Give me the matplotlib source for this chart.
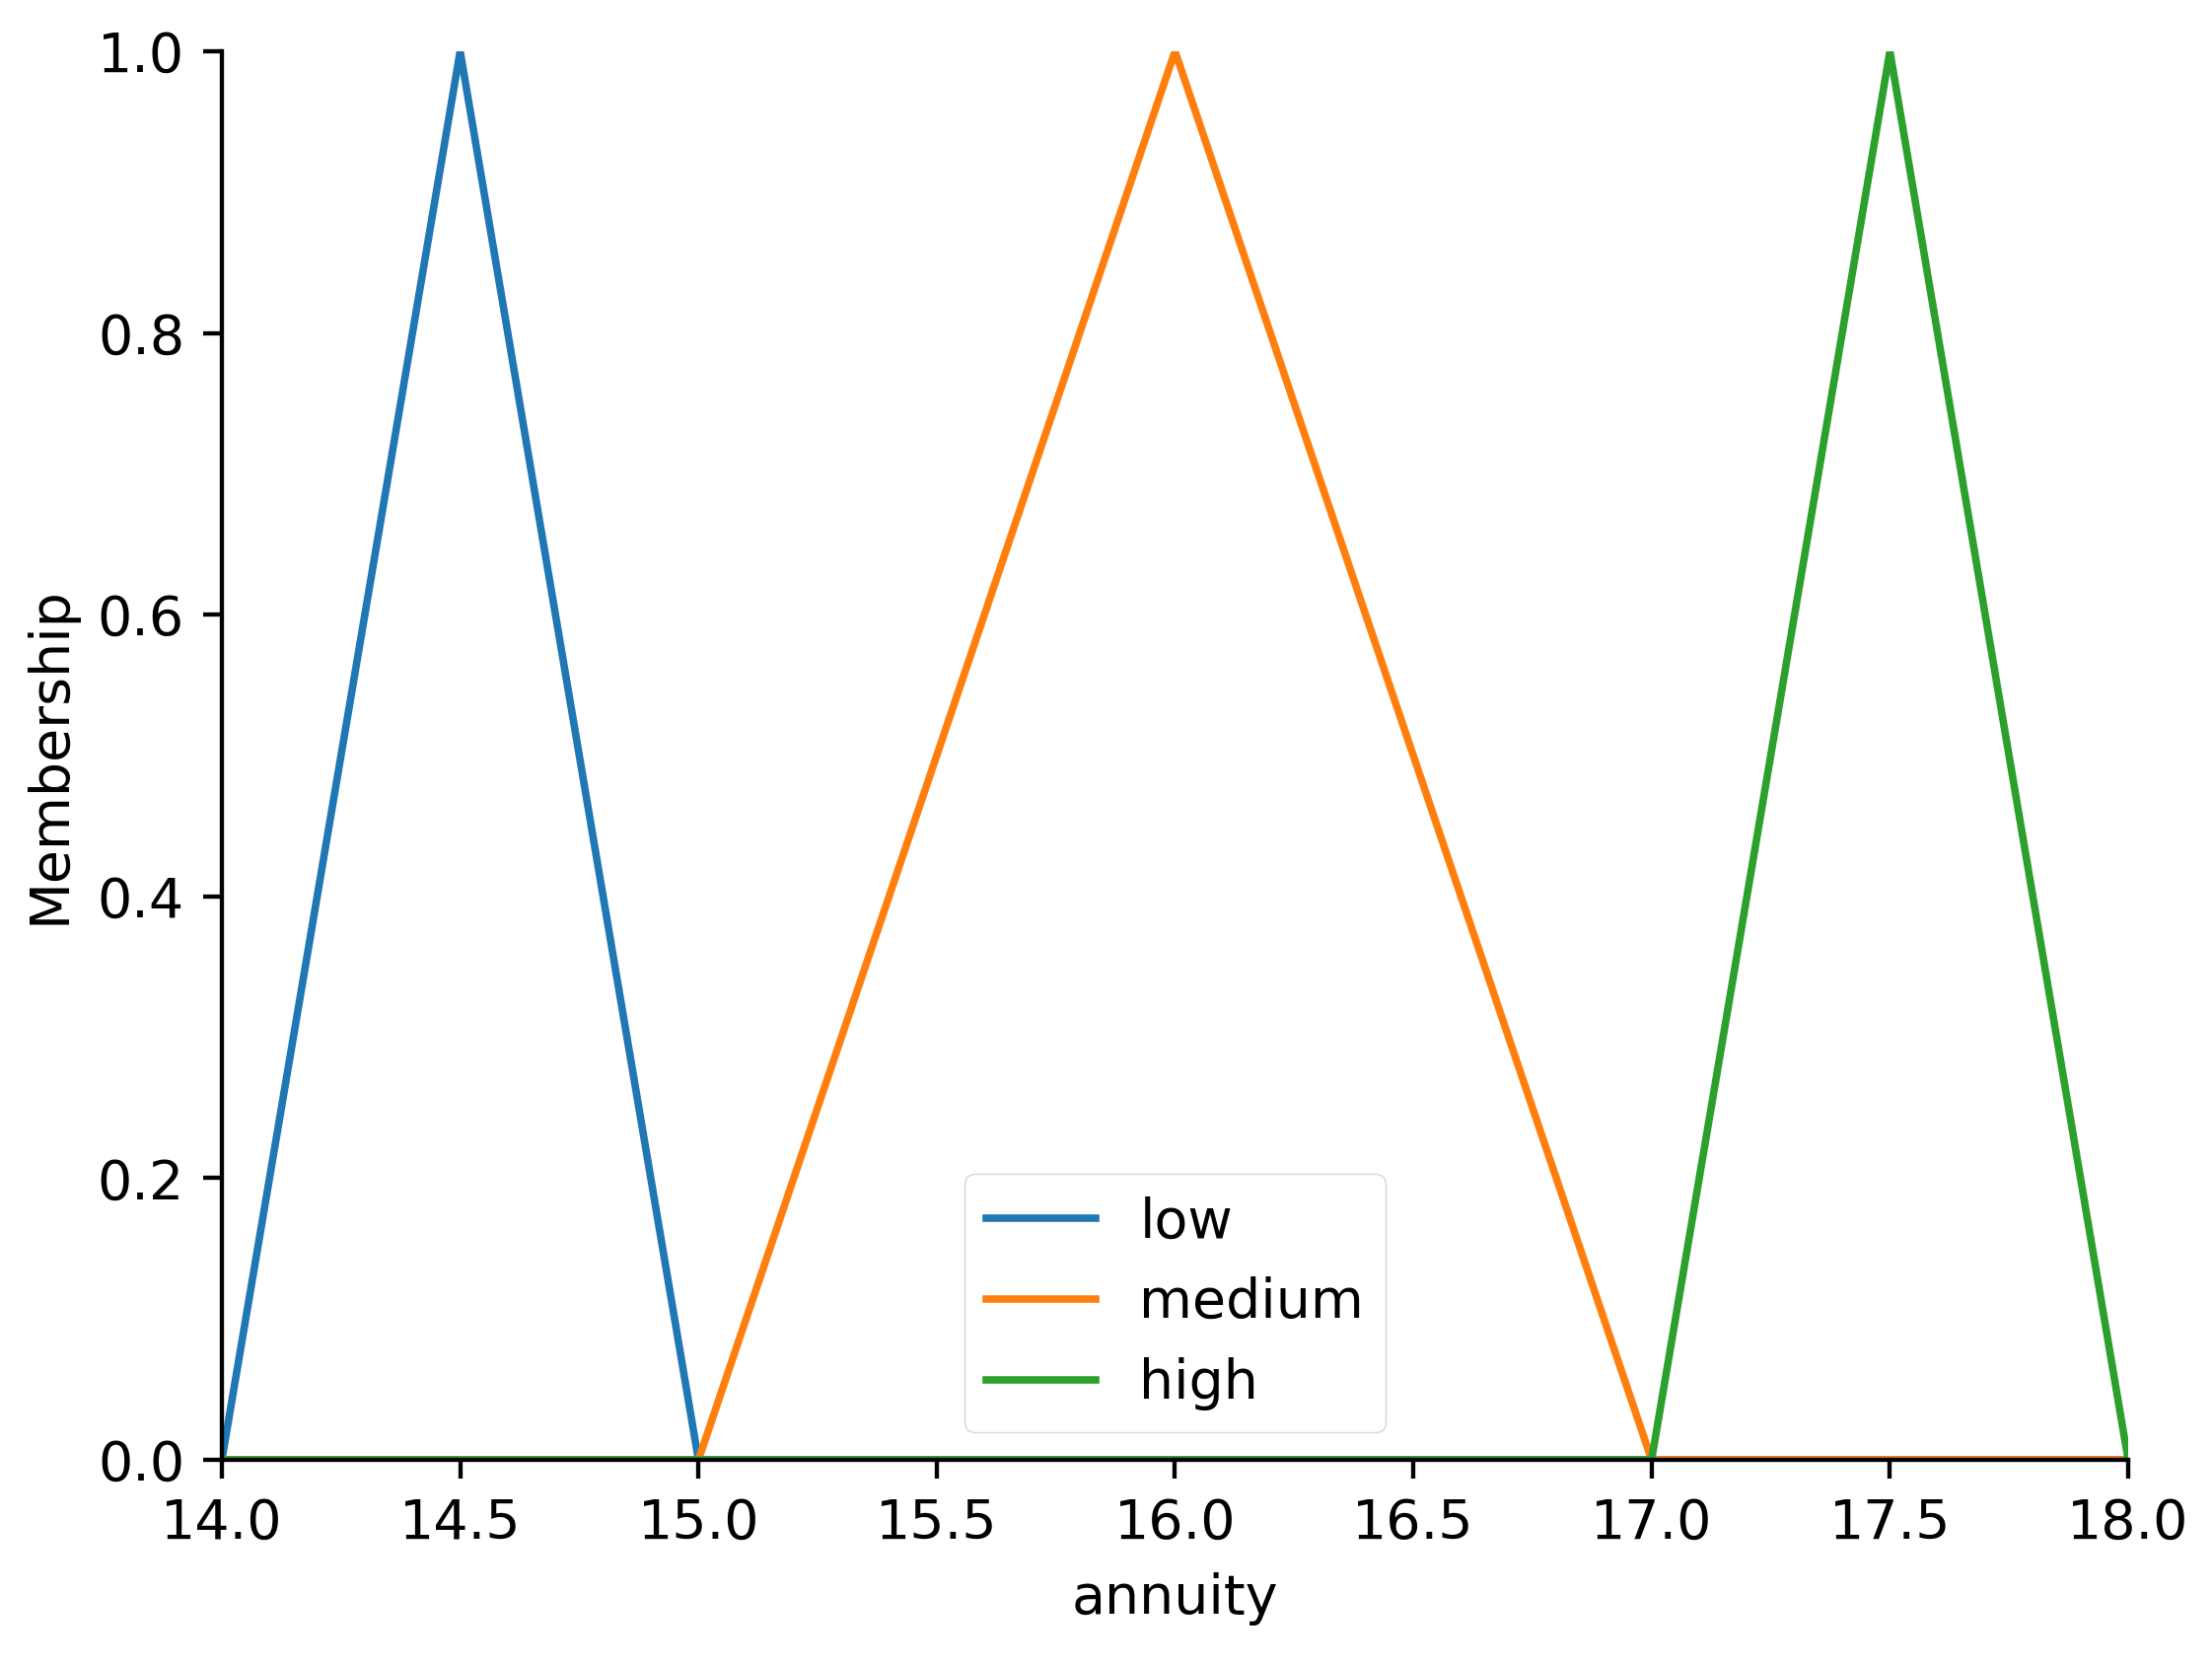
import matplotlib.pyplot as plt

# universe and membership values of the three triangular sets
annuity = [14.0, 14.5, 15.0, 15.5, 16.0, 16.5, 17.0, 17.5, 18.0]
low = [0, 1, 0, 0, 0, 0, 0, 0, 0]
medium = [0, 0, 0, 0.5, 1, 0.5, 0, 0, 0]
high = [0, 0, 0, 0, 0, 0, 0, 1, 0]
labels = ["low", "medium", "high"]

s = 3.9  # scale of the upscaled original
plt.rcParams["font.size"] = 40
plt.rcParams["axes.linewidth"] = 0.8 * s
for ax_ in ("xtick", "ytick"):
    plt.rcParams[ax_ + ".major.size"] = 3.5 * s
    plt.rcParams[ax_ + ".major.width"] = 0.8 * s
    plt.rcParams[ax_ + ".major.pad"] = 3.5 * s

fig, ax = plt.subplots(figsize=(22.43, 16.87), dpi=100)
fig.subplots_adjust(left=0.1003, right=0.9621, top=0.9692, bottom=0.1227)

for vals, lab in zip([low, medium, high], labels):
    ax.plot(annuity, vals, linewidth=1.4 * s, label=lab)

ax.set_xlim(14, 18)
ax.set_ylim(0, 1.0)
ax.set_xticks([14.0, 14.5, 15.0, 15.5, 16.0, 16.5, 17.0, 17.5, 18.0])
ax.set_yticks([0.0, 0.2, 0.4, 0.6, 0.8, 1.0])
ax.spines["top"].set_visible(False)
ax.spines["right"].set_visible(False)

ax.set_xlabel("annuity", labelpad=4 * s)
ax.set_ylabel("Membership", labelpad=4 * s)

ax.legend(loc="lower center", handlelength=2, borderpad=0.4 * 1.0)

fig.savefig("out.png")
